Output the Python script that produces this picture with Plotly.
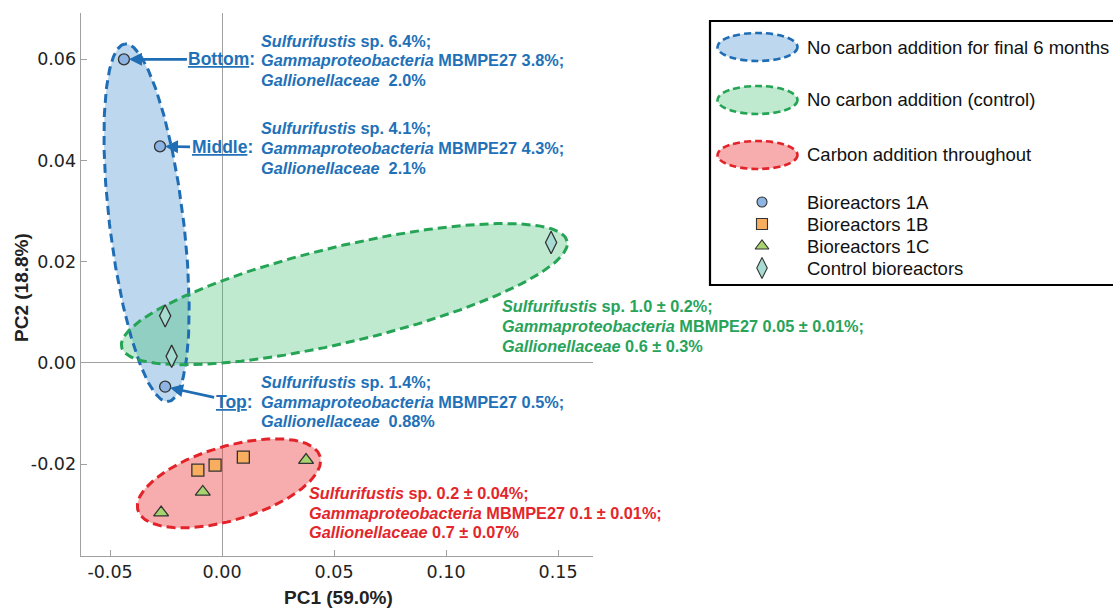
import numpy as np
import plotly.graph_objects as go

# ---- PCA scores (PC1, PC2) ----
pc1_1a = [-0.0438, -0.0277, -0.0254]
pc2_1a = [0.0600, 0.0428, -0.0047]
pc1_1b = [-0.0108, -0.0031, 0.0095]
pc2_1b = [-0.0212, -0.0202, -0.0186]
pc1_1c = [-0.0272, -0.0086, 0.0375]
pc2_1c = [-0.0296, -0.0255, -0.0192]
pc1_ctrl = [-0.0254, -0.0225, 0.1469]
pc2_ctrl = [0.0093, 0.0013, 0.0238]

# depth labels of the 1A samples (same order as pc1_1a / pc2_1a)
depth_labels = ["Bottom", "Middle", "Top"]
# relative abundances for the 1A samples
sulf_1a = ["6.4%", "4.1%", "1.4%"]
gamma_1a = ["3.8%", "4.3%", "0.5%"]
gall_1a = ["2.0%", "2.1%", "0.88%"]

# group summaries (mean ± sd)
ctrl_summary = ["1.0 ± 0.2%", "0.05 ± 0.01%", "0.6 ± 0.3%"]
carbon_summary = ["0.2 ± 0.04%", "0.1 ± 0.01%", "0.7 ± 0.07%"]

# ---- group ellipses: centre, semi-axes (PC1 units), rotation (deg) ----
ell_names = ["No carbon addition for final 6 months",
             "No carbon addition (control)",
             "Carbon addition throughout"]
ell_cx = [-0.0337, 0.0546, 0.0031]
ell_cy = [0.0277, 0.0136, -0.0238]
ell_a = [0.0804, 0.1022, 0.0424]
ell_b = [0.0165, 0.0214, 0.0165]
ell_rot = [96.9, 13.4, 16.5]

x_ticks = [-0.05, 0.00, 0.05, 0.10, 0.15]
x_ticktext = ["-0.05", "0.00", "0.05", "0.10", "0.15"]
y_ticks = [-0.02, 0.00, 0.02, 0.04, 0.06]
y_ticktext = ["-0.02", "0.00", "0.02", "0.04", "0.06"]
X_RANGE = [-0.0631, 0.1656]
Y_RANGE = [-0.0381, 0.0691]

# ---- styling ----
W, H = 1113, 610
PLOT_L, PLOT_R, PLOT_T, PLOT_B = 80.7, 593.0, 13.3, 555.7
FONT = "Liberation Sans, Arial, sans-serif"
BLUE_LINE = "#1f6db4"
GREEN_LINE = "#25a456"
RED_LINE = "#e3232a"
BLUE_TXT = "#2271b8"
GREEN_TXT = "#27a35a"
RED_TXT = "#e3262b"
ell_line = [BLUE_LINE, GREEN_LINE, RED_LINE]
ell_fill = ["rgba(91,155,213,0.40)", "rgba(60,190,110,0.33)", "rgba(236,60,60,0.42)"]
DASH = "9px,5px"
AXIS_GREY = "#a0a0a0"
TXT = 16.3
LINE_PITCH = 19.7

sx = (PLOT_R - PLOT_L) / (X_RANGE[1] - X_RANGE[0])
sy = (PLOT_B - PLOT_T) / (Y_RANGE[1] - Y_RANGE[0])


def px(x):
    return x / W


def py(y):
    return 1 - y / H


def ellipse(cx, cy, a, b, rot):
    t = np.linspace(0, 2 * np.pi, 240)
    th = np.radians(rot)
    u, v = a * np.cos(t), b * np.sin(t)
    dx = u * np.cos(th) - v * np.sin(th)
    dy = (u * np.sin(th) + v * np.cos(th)) * sx / sy
    return cx + dx, cy + dy


fig = go.Figure()

# ellipse fills first, dashed outlines afterwards
outlines = []
for i in range(3):
    ex, ey = ellipse(ell_cx[i], ell_cy[i], ell_a[i], ell_b[i], ell_rot[i])
    fig.add_trace(go.Scatter(x=ex, y=ey, mode="lines", fill="toself",
                             fillcolor=ell_fill[i], line=dict(width=0),
                             hoverinfo="skip", showlegend=False))
    outlines.append((ex, ey))
for i, (ex, ey) in enumerate(outlines):
    fig.add_trace(go.Scatter(x=ex, y=ey, mode="lines",
                             line=dict(color=ell_line[i], width=3, dash=DASH),
                             hoverinfo="skip", showlegend=False))

# sample markers
MK_LINE = dict(color="#333333", width=1.3)
markers = [
    ("Bioreactors 1A", pc1_1a, pc2_1a, "circle", 11, "#8db4e2"),
    ("Bioreactors 1B", pc1_1b, pc2_1b, "square", 12, "#f9ad5e"),
    ("Bioreactors 1C", pc1_1c, pc2_1c, "triangle-up", 13, "#a8d46f"),
    ("Control bioreactors", pc1_ctrl, pc2_ctrl, "diamond-tall", 16, "#a7dcd2"),
]
for name, xs, ys, sym, size, col in markers:
    fig.add_trace(go.Scatter(x=xs, y=ys, mode="markers", name=name,
                             marker=dict(symbol=sym, size=size, color=col, line=MK_LINE),
                             showlegend=False))

# ---- annotations ----
ann = []


def block(lines, color, x, y_mid):
    # one annotation per line so the line pitch stays tight
    n = len(lines)
    for k, s in enumerate(lines):
        yk = y_mid + (k - (n - 1) / 2) * LINE_PITCH
        ann.append(dict(xref="paper", yref="paper", x=px(x), y=py(yk),
                        xanchor="left", yanchor="middle", align="left",
                        showarrow=False, text="<b>" + s + "</b>",
                        font=dict(family=FONT, size=TXT, color=color)))


block_y = [60.5, 148, 401.7]
label_offsets = [(98, 0), (62, 1), (69, 15)]
for i in range(3):
    block([f"<i>Sulfurifustis</i> sp. {sulf_1a[i]};",
           f"<i>Gammaproteobacteria</i> MBMPE27 {gamma_1a[i]};",
           f"<i>Gallionellaceae</i>\u00a0 {gall_1a[i]}"], BLUE_TXT, 259, block_y[i])
    axo, ayo = label_offsets[i]
    ann.append(dict(x=pc1_1a[i], y=pc2_1a[i], xref="x", yref="y",
                    xanchor="center", yanchor="middle",
                    text=f"<b><u>{depth_labels[i]}</u>:</b>", showarrow=True,
                    ax=axo, ay=ayo, arrowhead=2, arrowsize=1, arrowwidth=2.6,
                    arrowcolor=BLUE_LINE, standoff=5,
                    font=dict(family=FONT, size=17.5, color=BLUE_TXT)))

block([f"<i>Sulfurifustis</i> sp. {ctrl_summary[0]};",
       f"<i>Gammaproteobacteria</i> MBMPE27 {ctrl_summary[1]};",
       f"<i>Gallionellaceae</i> {ctrl_summary[2]}"], GREEN_TXT, 500, 326)
block([f"<i>Sulfurifustis</i> sp. {carbon_summary[0]};",
       f"<i>Gammaproteobacteria</i> MBMPE27 {carbon_summary[1]};",
       f"<i>Gallionellaceae</i> {carbon_summary[2]}"], RED_TXT, 307, 512.7)

# axis titles
ann.append(dict(xref="paper", yref="paper", x=px(338), y=py(597),
                xanchor="center", yanchor="middle", showarrow=False,
                text="<b>PC1 (59.0%)</b>", font=dict(family=FONT, size=19, color="#222")))
ann.append(dict(xref="paper", yref="paper", x=px(21), y=py(288),
                xanchor="center", yanchor="middle", showarrow=False,
                textangle=-90, text="<b>PC2 (18.8%)</b>",
                font=dict(family=FONT, size=19, color="#222")))

# ---- legend box ----
shapes = [dict(type="rect", xref="paper", yref="paper", x0=px(710), x1=px(1125),
               y0=py(285), y1=py(21), line=dict(color="black", width=2.2),
               fillcolor="white", layer="below")]
leg_ell_y = [47, 100, 155]
for i in range(3):
    shapes.append(dict(type="circle", xref="paper", yref="paper",
                       x0=px(717.5), x1=px(797.5), y0=py(leg_ell_y[i] + 14),
                       y1=py(leg_ell_y[i] - 14), fillcolor=ell_fill[i],
                       line=dict(color=ell_line[i], width=2.6, dash="7px,4px")))
    ann.append(dict(xref="paper", yref="paper", x=px(805), y=py(leg_ell_y[i]),
                    xanchor="left", yanchor="middle", showarrow=False,
                    text=ell_names[i], font=dict(family=FONT, size=18.5, color="#111")))

leg_mk_y = [202, 224, 246, 268]
for j, (name, _, _, sym, size, col) in enumerate(markers):
    fig.add_trace(go.Scatter(x=[762], y=[leg_mk_y[j]], xaxis="x2", yaxis="y2",
                             mode="markers", showlegend=False, hoverinfo="skip",
                             marker=dict(symbol=sym, size=size - 1, color=col,
                                         line=dict(color="#333", width=1.1))))
    ann.append(dict(xref="paper", yref="paper", x=px(805), y=py(leg_mk_y[j]),
                    xanchor="left", yanchor="middle", showarrow=False,
                    text=name, font=dict(family=FONT, size=18.5, color="#111")))

TICKFONT = dict(family="DejaVu Sans, sans-serif", size=17.5, color="#222")
fig.update_layout(
    width=W, height=H, margin=dict(l=0, r=0, t=0, b=0),
    paper_bgcolor="white", plot_bgcolor="rgba(0,0,0,0)",
    xaxis=dict(domain=[PLOT_L / W, PLOT_R / W], range=X_RANGE, tickvals=x_ticks,
               ticktext=x_ticktext, showgrid=False, zeroline=True,
               zerolinecolor=AXIS_GREY, zerolinewidth=1, showline=True,
               linecolor=AXIS_GREY, linewidth=1.2, ticks="inside", ticklen=6,
               tickcolor=AXIS_GREY, tickfont=TICKFONT, automargin=False, anchor="y"),
    yaxis=dict(domain=[1 - PLOT_B / H, 1 - PLOT_T / H], range=Y_RANGE, tickvals=y_ticks,
               ticktext=y_ticktext, showgrid=False, zeroline=True,
               zerolinecolor=AXIS_GREY, zerolinewidth=1, showline=True,
               linecolor=AXIS_GREY, linewidth=1.2, ticks="inside", ticklen=6,
               tickcolor=AXIS_GREY, tickfont=TICKFONT, automargin=False, anchor="x"),
    xaxis2=dict(domain=[0, 1], range=[0, W], visible=False, anchor="y2", fixedrange=True),
    yaxis2=dict(domain=[0, 1], range=[H, 0], visible=False, anchor="x2", fixedrange=True),
    shapes=shapes, annotations=ann, showlegend=False,
)

fig.write_html("out.html")
